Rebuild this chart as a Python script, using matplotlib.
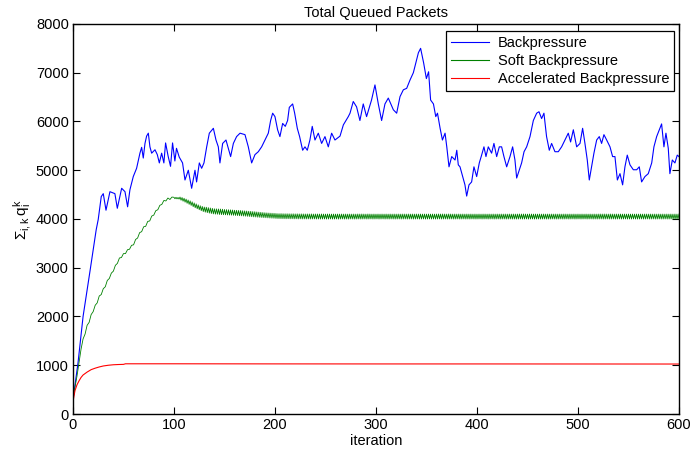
import matplotlib
matplotlib.use('Agg')
import matplotlib.pyplot as plt
import numpy as np

plt.rcParams['font.family'] = ['Liberation Sans', 'DejaVu Sans']
plt.rcParams['mathtext.fontset'] = 'custom'
plt.rcParams['mathtext.rm'] = 'Liberation Sans'
plt.rcParams['mathtext.it'] = 'Liberation Sans'

# Backpressure
blue_x = [0, 5, 10, 17, 23, 25, 28, 30, 32.7, 36.6, 41.5, 43.9, 48.2, 51.5, 54.1, 56.4,
          59.7, 63, 66.3, 68, 69.6, 71.3, 72.9, 74.6, 76.2, 77.9, 81.2, 83.5, 85.5, 87.8,
          90, 91.7, 94.3, 96.6, 98.6, 100.9, 102.5, 105.2, 108.5, 110.9, 114.2, 117.5,
          120.8, 122.4, 125.1, 127.4, 129.7, 132.4, 135, 139, 141.6, 143.9, 145.5, 148.2,
          151.5, 153.8, 156.1, 158.8, 162, 165.4, 170.3, 173.6, 176.9, 180.2, 183.5,
          186.8, 190.1, 193.4, 195.7, 197.7, 200, 202.6, 204.9, 207.6, 210.2, 212.5,
          214.2, 217.5, 219.5, 222.1, 224.4, 227.4, 229.7, 232, 234.6, 236.9, 239.6,
          242.9, 246.2, 249.5, 252.8, 256.1, 259.4, 264.4, 267.7, 272.6, 274.3, 277.5,
          280.8, 284.1, 287.4, 290.7, 295.6, 299, 302.3, 305.6, 308.9, 312.2, 317.2,
          320.5, 323.8, 327.1, 330.4, 333.7, 337, 340.3, 342, 344.2, 347.2, 349.9, 352.1,
          354.1, 356.9, 359.2, 360.9, 363.5, 365.8, 368.4, 370.1, 372.3, 375, 378.3, 380,
          381.5, 383.2, 385.8, 388.1, 389.8, 392.1, 394.7, 397, 399.7, 402.3, 404.6,
          406.9, 408.9, 411.2, 414.5, 416.8, 419.5, 422.1, 424.4, 426.7, 429.4, 432.7,
          435.3, 437.6, 439.3, 442, 444.2, 446.6, 449.2, 452.5, 455.8, 459.1, 461.4, 464,
          466.3, 468.9, 471.6, 473.9, 477.2, 480.5, 483.8, 487.1, 490.4, 492.7, 495.4,
          498.7, 502, 504.6, 506.9, 509.2, 511.2, 513.5, 515.8, 518.5, 521.1, 523.4,
          525.7, 528.4, 531.7, 534.3, 536.6, 539, 541.6, 544.2, 546.5, 548.8, 551.5,
          554.8, 558.1, 560.7, 563, 566.3, 569.6, 573, 575.2, 577.9, 580.5, 582.8, 585.1,
          587.1, 589.4, 591, 593.4, 596, 598.3, 600]
blue_y = [290, 1050, 2000, 2950, 3780, 3990, 4460, 4520, 4180, 4560, 4520, 4220, 4630, 4560, 4250, 4600,
          4870, 5040, 5350, 5470, 5250, 5550, 5700, 5760, 5480, 5350, 5420, 5320, 5150, 5350,
          5150, 5560, 5280, 5080, 5560, 5190, 5450, 5270, 5150, 4800, 5000, 4630,
          5000, 4760, 5150, 5040, 5150, 5480, 5760, 5860, 5620, 5480, 5150, 5550,
          5620, 5450, 5280, 5550, 5690, 5760, 5730, 5480, 5150, 5320, 5380,
          5480, 5620, 5760, 6020, 6170, 6100, 5830, 5690, 5960, 5900, 6020,
          6290, 6360, 6170, 5860, 5690, 5410, 5480, 5410, 5620, 5900, 5620,
          5760, 5550, 5690, 5480, 5760, 5620, 5700, 5930, 6100, 6170, 6410,
          6300, 6020, 6360, 6100, 6440, 6750, 6360, 6020, 6360, 6480, 6240,
          6170, 6510, 6650, 6680, 6850, 7000, 7270, 7410, 7500, 7200, 6880, 7020,
          6440, 6360, 6100, 6170, 5860, 5620, 5760, 5480, 5070, 5280, 5210, 5410,
          5110, 5070, 4870, 4700, 4470, 4700, 4760, 5070, 4870, 5150, 5310,
          5480, 5280, 5480, 5350, 5550, 5280, 5480, 5480, 5280, 5070, 5280,
          5480, 5210, 4840, 5010, 5150, 5380, 5480, 5690, 6020, 6170, 6200, 6060,
          6170, 5690, 5410, 5550, 5380, 5380, 5480, 5620, 5760, 5580, 5830,
          5480, 5550, 5860, 5550, 5210, 4800, 5070, 5350, 5620, 5690, 5550,
          5730, 5620, 5480, 5280, 5280, 4800, 4930, 4700, 5070, 5310, 5110,
          5010, 5010, 5070, 4760, 4870, 4930, 5150, 5480, 5690, 5830, 5950, 5480,
          5760, 5450, 4930, 5210, 5150, 5310, 5280]

# Soft Backpressure: every 2 iterations while rising, then every iteration
green_x = np.concatenate([np.arange(0, 100, 2), np.arange(100, 601)])
green_y = [300, 550, 780, 1050, 1330, 1540, 1640, 1820, 1880, 2040,
           2100, 2230, 2280, 2420, 2450, 2570, 2610, 2740, 2780, 2890,
           2930, 3050, 3090, 3200, 3210, 3290, 3290, 3370, 3380, 3460,
           3470, 3580, 3610, 3720, 3740, 3840, 3850, 3950, 3960, 4060,
           4080, 4170, 4190, 4280, 4300, 4380, 4370, 4430, 4400, 4450,
           # 100 - 200
           4445, 4415, 4445, 4412, 4442, 4408, 4450, 4385, 4440, 4365,
           4425, 4345, 4408, 4322, 4390, 4300, 4372, 4278, 4352, 4252,
           4330, 4230, 4310, 4210, 4290, 4190, 4272, 4170, 4258, 4152,
           4245, 4140, 4242, 4130, 4233, 4120, 4226, 4112, 4218, 4104,
           4210, 4099, 4208, 4097, 4206, 4093, 4204, 4090, 4200, 4087,
           4195, 4085, 4193, 4082, 4190, 4080, 4188, 4078, 4185, 4075,
           4180, 4072, 4178, 4070, 4176, 4066, 4174, 4064, 4170, 4060,
           4167, 4057, 4164, 4054, 4160, 4050, 4157, 4046, 4153, 4042,
           4150, 4040, 4145, 4036, 4141, 4033, 4137, 4030, 4133, 4027,
           4129, 4025, 4126, 4022, 4123, 4019, 4120, 4016, 4118, 4014,
           4116,
           # 201 - 600
           4010, 4112, 4008, 4110, 4007, 4111, 4006, 4109, 4005, 4108, 4004, 4108, 4005, 4107, 4003, 4106, 4004, 4107, 4002, 4105,
           4003, 4106, 4001, 4104, 4002, 4105, 4000, 4104, 4001, 4103, 4000, 4104, 4001, 4103, 3999, 4104, 4000, 4102, 4001, 4103,
           3999, 4103, 4000, 4102, 3998, 4103, 3999, 4102, 4000, 4101, 3998, 4103, 3999, 4102, 4000, 4101, 3998, 4102, 3999, 4101,
           4000, 4102, 3998, 4101, 3999, 4102, 4000, 4101, 3998, 4102, 3999, 4101, 3998, 4102, 4000, 4101, 3999, 4102, 3998, 4101,
           3999, 4103, 4000, 4102, 3998, 4103, 3999, 4102, 4000, 4101, 3998, 4103, 3999, 4102, 4000, 4101, 3998, 4102, 3999, 4101,
           4000, 4102, 3998, 4101, 3999, 4102, 4000, 4101, 3998, 4102, 3999, 4101, 3998, 4102, 4000, 4101, 3999, 4102, 3998, 4101,
           3999, 4102, 4000, 4101, 3998, 4102, 3999, 4102, 4000, 4101, 3998, 4102, 3999, 4101, 4000, 4102, 3998, 4101, 3999, 4102,
           4000, 4101, 3998, 4102, 3999, 4101, 4000, 4102, 3998, 4101, 3999, 4102, 4000, 4101, 3998, 4102, 3999, 4101, 3998, 4102,
           3999, 4103, 4000, 4102, 3998, 4103, 3999, 4102, 4000, 4101, 3998, 4103, 3999, 4102, 4000, 4101, 3998, 4102, 3999, 4101,
           4000, 4102, 3998, 4101, 3999, 4102, 4000, 4101, 3998, 4102, 3999, 4101, 3998, 4102, 4000, 4101, 3999, 4102, 3998, 4101,
           3999, 4102, 4000, 4101, 3998, 4102, 3999, 4102, 4000, 4101, 3998, 4102, 3999, 4101, 4000, 4102, 3998, 4101, 3999, 4102,
           4000, 4101, 3998, 4102, 3999, 4101, 4000, 4102, 3998, 4101, 3999, 4102, 4000, 4101, 3998, 4102, 3999, 4101, 3998, 4102,
           3999, 4103, 4000, 4102, 3998, 4103, 3999, 4102, 4000, 4101, 3998, 4103, 3999, 4102, 4000, 4101, 3998, 4102, 3999, 4101,
           4000, 4102, 3998, 4101, 3999, 4102, 4000, 4101, 3998, 4102, 3999, 4101, 3998, 4102, 4000, 4101, 3999, 4102, 3998, 4101,
           3999, 4102, 4000, 4101, 3998, 4102, 3999, 4102, 4000, 4101, 3998, 4102, 3999, 4101, 4000, 4102, 3998, 4101, 3999, 4102,
           4000, 4101, 3998, 4102, 3999, 4101, 4000, 4102, 3998, 4101, 3999, 4102, 4000, 4101, 3998, 4102, 3999, 4101, 3998, 4102,
           3999, 4103, 4000, 4102, 3998, 4103, 3999, 4102, 4000, 4101, 3998, 4103, 3999, 4102, 4000, 4101, 3998, 4102, 3999, 4101,
           4000, 4102, 3998, 4101, 3999, 4102, 4000, 4101, 3998, 4102, 3999, 4101, 3998, 4102, 4000, 4101, 3999, 4102, 3998, 4101,
           3999, 4102, 4000, 4101, 3998, 4102, 3999, 4102, 4000, 4101, 3998, 4102, 3999, 4101, 4000, 4102, 3998, 4101, 3999, 4102,
           4000, 4101, 3998, 4102, 3999, 4101, 4000, 4102, 3998, 4101, 3999, 4102, 4000, 4101, 3998, 4102, 3999, 4101, 3998, 4102]

# Accelerated Backpressure
red_x = [0, 2, 4, 6, 8, 10, 14, 18, 22, 26, 30, 35, 40, 45, 50, 52, 100, 200, 300, 400, 500, 600]
red_y = [250, 480, 600, 680, 750, 800, 860, 910, 940, 965, 985, 1000, 1010, 1015, 1018, 1030,
         1030, 1028, 1027, 1027, 1026, 1025]

labels = ['Backpressure', 'Soft Backpressure', 'Accelerated Backpressure']

fig = plt.figure(figsize=(6.91, 4.55), dpi=100)
ax = fig.add_axes([0.1056, 0.0901, 0.8770, 0.8572])

ax.plot(blue_x, blue_y, color=(0, 0, 1), lw=0.8, label=labels[0])
ax.plot(green_x, green_y, color=(0, 0.5, 0), lw=0.6, label=labels[1])
ax.plot(red_x, red_y, color=(1, 0, 0), lw=0.8, label=labels[2])

ax.set_xlim(0, 600)
ax.set_ylim(0, 8000)
ax.set_xticks(np.arange(0, 601, 100))
ax.set_yticks(np.arange(0, 8001, 1000))
ax.tick_params(direction='in', top=True, right=True, length=5, width=0.8,
               labelsize=10.5, colors='black', pad=3)
for s in ax.spines.values():
    s.set_linewidth(1.0)

ax.set_title('Total Queued Packets', fontsize=10.5, pad=5)
ax.set_xlabel('iteration', fontsize=10.5, labelpad=1)
ax.set_ylabel(r'$\Sigma_{i,k}\, q_i^k$', fontsize=11, labelpad=2)

leg = ax.legend(loc='upper right', bbox_to_anchor=(0.992, 0.982), borderaxespad=0,
                fontsize=10.5, frameon=True, fancybox=False, edgecolor='black',
                framealpha=1, handlelength=2.6, borderpad=0.35, labelspacing=0.28,
                handletextpad=0.6)
leg.get_frame().set_linewidth(0.9)
for h in leg.get_lines():
    h.set_linewidth(0.8)

plt.savefig('out.png', dpi=100)
